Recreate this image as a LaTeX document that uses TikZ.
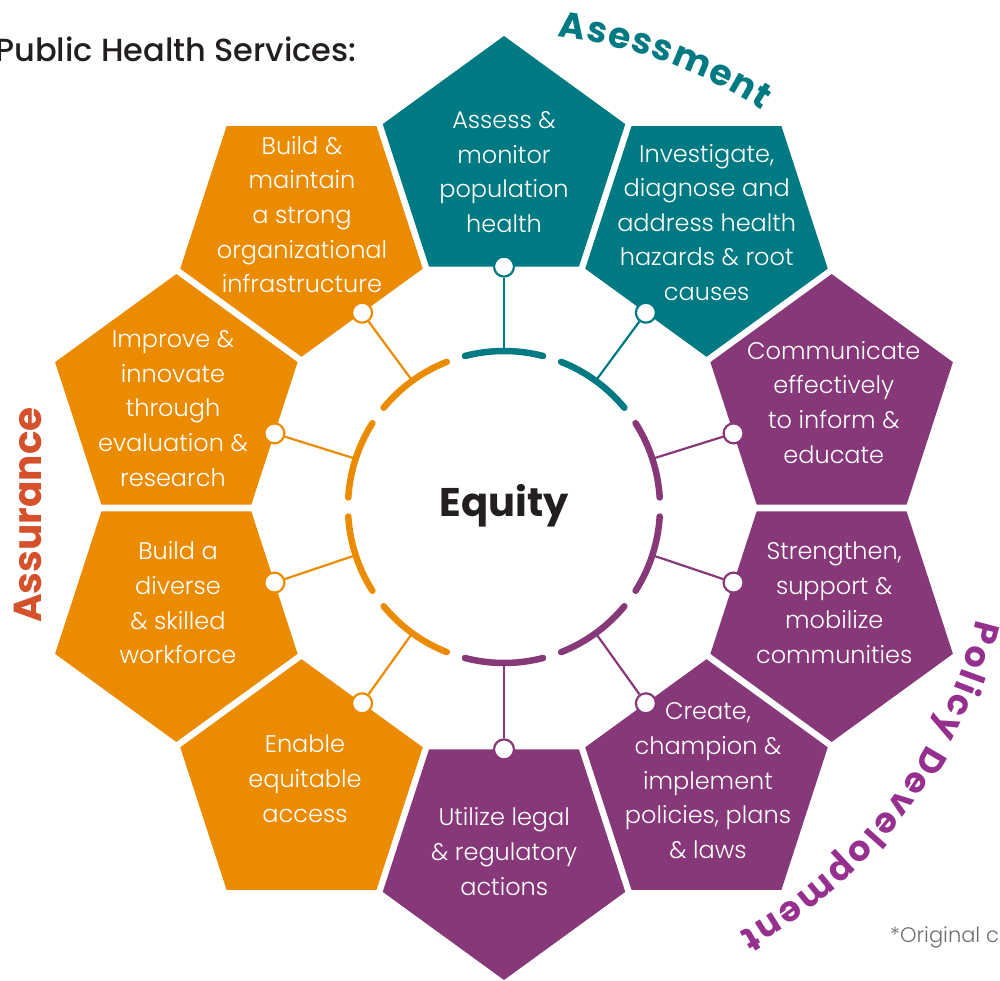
\documentclass[tikz,border=0pt]{standalone}
\usepackage{fontspec}
\setmainfont{Poppins}
\newfontfamily\medfont{Poppins Medium}
\newfontfamily\lightfont{Poppins Light}
\usetikzlibrary{shapes.geometric,decorations.text}
\definecolor{cteal}{HTML}{007A82}
\definecolor{corange}{HTML}{EB8B00}
\definecolor{cpurple}{HTML}{873878}
\definecolor{cpolicy}{HTML}{96308F}
\definecolor{cassur}{HTML}{D4512C}
\definecolor{cdark}{HTML}{231F20}
\definecolor{cgray}{HTML}{6D6E71}
\begin{document}
\begin{tikzpicture}[x=1pt,y=1pt,
  penta/.style={regular polygon, regular polygon sides=5, minimum size=255pt, inner sep=0pt, outer sep=0pt, draw=none, fill=#1},
  lbl/.style={text=white, align=center, font=\lightfont\fontsize{24}{34.6}\selectfont, inner sep=0pt},
  dotnode/.style={circle, draw=#1, line width=2.2pt, fill=white, minimum size=20pt, inner sep=0pt},
  link/.style={draw=#1, line width=2.2pt},
  ringarc/.style={draw=#1, line width=6.5pt, line cap=round},
]
\useasboundingbox (-504,-473) rectangle (496,508);

% pentagons
\foreach \i/\a/\c in {1/90/cteal, 2/54/cteal, 3/18/cpurple, 4/-18/cpurple, 5/-54/cpurple,
                      6/-90/cpurple, 7/-126/corange, 8/-162/corange, 9/162/corange, 10/126/corange}{
  \pgfmathsetmacro\rot{\a-90}
  \node[penta=\c, shape border rotate=\rot] (p\i) at (\a:344.5) {};
}

% ring
\begin{scope}[shift={(0,1)}]
\foreach \i/\a/\c in {1/90/cteal, 2/54/cteal, 3/18/cpurple, 4/-18/cpurple, 5/-54/cpurple,
                      6/-90/cpurple, 7/-126/corange, 8/-162/corange, 9/162/corange, 10/126/corange}{
  \draw[ringarc=\c] (\a-14.5:156) arc[start angle=\a-14.5, delta angle=29, radius=156pt];
  \coordinate (r\i) at (\a:156);
}
\end{scope}

% connectors and dots
\foreach \i/\a/\c in {1/90/cteal, 2/54/cteal, 3/18/cpurple, 4/-18/cpurple, 5/-54/cpurple,
                      6/-90/cpurple, 7/-126/corange, 8/-162/corange, 9/162/corange, 10/126/corange}{
  \node[dotnode=\c] (d\i) at (\a:241.4) {};
  \draw[link=\c] (r\i) -- (d\i);
}

% texts in pentagons
\node[lbl] (t1) at (0,336) {Assess \&\\monitor\\population\\health};
\node[lbl] (t2) at (202.7,285.6) {Investigate,\\diagnose and\\address health\\hazards \& root\\causes};
\node[lbl] (t3) at (329.8,105.8) {Communicate\\effectively\\to inform \&\\educate};
\node[lbl] (t4) at (330.2,-94.9) {Strengthen,\\support \&\\mobilize\\communities};
\node[lbl] (t5) at (204,-272.7) {Create,\\champion \&\\implement\\policies, plans\\\& laws};
\node[lbl] (t6) at (0.2,-343.6) {Utilize legal\\\& regulatory\\actions};
\node[lbl] (t7) at (-199,-270.8) {Enable\\equitable\\access};
\node[lbl] (t8) at (-326,-94.9) {Build a\\diverse\\\& skilled\\workforce};
\node[lbl] (t9) at (-331,99.6) {Improve \&\\innovate\\through\\evaluation \&\\research};
\node[lbl] (t10) at (-202,293.4) {Build \&\\maintain\\a strong\\organizational\\infrastructure};

% center
\node[anchor=base, inner sep=0pt, text=cdark, font=\fontsize{40}{40}\selectfont\bfseries] (eq) at (0,-9) {Equity};

% title and note
\node[anchor=base west, inner sep=0pt, text=cdark, font=\medfont\fontsize{32}{32}\selectfont] (title) at (-509,446.3) {Public Health Services:};
\node[anchor=base west, inner sep=0pt, text=cgray, font=\lightfont\fontsize{21}{21}\selectfont] (orig) at (386,-434) {*Original c};

% section labels
\node[rotate=90, inner sep=0pt, text=cassur, font=\fontsize{39}{39}\selectfont\bfseries] (assur) at (-476,-7) {Assurance};
\path[decorate, decoration={text along path, text={|\fontsize{36}{36}\selectfont\bfseries|Asessment}, text color=cteal, text align=fit to path}]
  (83.5:474) arc[start angle=83.5, end angle=57, radius=474pt];
\path[decorate, decoration={text along path, text={|\fontsize{35}{35}\selectfont\bfseries|Policy Development}, text color=cpolicy, text align=fit to path}]
  (-13.3:485) arc[start angle=-13.3, end angle=-61, radius=485pt];
\end{tikzpicture}
\end{document}
